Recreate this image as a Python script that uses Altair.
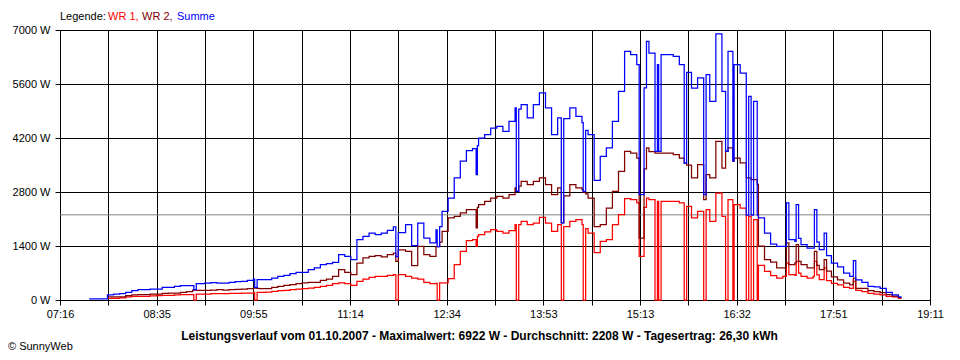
import altair as alt
import pandas as pd

FONT = "Liberation Sans"

# ---------------- data ----------------
times = [
    "07:40", "07:45", "07:50", "07:55", "08:00", "08:05", "08:10", "08:15", "08:20", "08:25",
    "08:30", "08:35", "08:40", "08:45", "08:50", "08:55", "09:00", "09:05", "09:06", "09:08",
    "09:10", "09:15", "09:20", "09:25", "09:30", "09:35", "09:40", "09:45", "09:50", "09:55",
    "09:56", "09:58", "10:00", "10:05", "10:10", "10:15", "10:20", "10:25", "10:30", "10:35",
    "10:40", "10:45", "10:50", "10:55", "11:00", "11:05", "11:10", "11:15", "11:20", "11:25",
    "11:30", "11:35", "11:40", "11:45", "11:50", "11:52", "11:54", "12:00", "12:05", "12:10",
    "12:15", "12:20", "12:25", "12:26", "12:28", "12:30", "12:35", "12:40", "12:45", "12:50",
    "12:55", "12:58", "12:59", "13:00", "13:05", "13:10", "13:15", "13:20", "13:25", "13:30",
    "13:31", "13:33", "13:35", "13:40", "13:45", "13:50", "13:55", "14:00", "14:05", "14:08",
    "14:10", "14:15", "14:20", "14:25", "14:26", "14:28", "14:30", "14:35", "14:40", "14:45",
    "14:50", "14:55", "15:00", "15:05", "15:10", "15:12", "15:16", "15:18", "15:20", "15:25",
    "15:27", "15:28", "15:30", "15:35", "15:40", "15:45", "15:49", "15:51", "15:55", "16:00",
    "16:05", "16:07", "16:10", "16:15", "16:20", "16:23", "16:25", "16:29", "16:30", "16:35",
    "16:40", "16:42", "16:44", "16:46", "16:49", "16:50", "16:55", "17:00", "17:05", "17:10",
    "17:13", "17:15", "17:20", "17:21", "17:23", "17:25", "17:30", "17:35", "17:36", "17:38",
    "17:40", "17:44", "17:46", "17:50", "17:55", "18:00", "18:05", "18:08", "18:10", "18:15",
    "18:20", "18:25", "18:30", "18:35", "18:40", "18:45", "18:47",
]

wr1 = [
    None, None, None, 43, 43, 52, 78, 95, 95, 95,
    104, 112, 121, 121, 130, 138, 138, 138, 0, 155,
    155, 155, 164, 164, 164, 173, 173, 181, 181, 198,
    0, 198, 198, 207, 225, 242, 251, 268, 285, 294,
    311, 328, 354, 380, 423, 441, 423, 380, 484, 544,
    588, 614, 614, 640, 657, 0, 657, 614, 570, 544,
    458, 423, 432, 0, 441, 441, 553, 916, 1262, 1538,
    1564, 1391, 1650, 1694, 1763, 1823, 1780, 1737, 1797, 1953,
    0, 1953, 2040, 1953, 1996, 2143, 1996, 1780, 1953, 0,
    1900, 2040, 2083, 1953, 0, 1850, 1737, 1230, 1521, 1564,
    1953, 2212, 2627, 2601, 2515, 1132, 2400, 2644, 2600, 0,
    2558, 0, 2558, 2558, 2558, 2515, 0, 2428, 2126, 2299,
    0, 2342, 2040, 2774, 2169, 0, 2601, 0, 2472, 2385,
    0, 2169, 0, 2083, 0, 900, 743, 630, 570, 614,
    959, 657, 640, 1002, 700, 614, 570, 614, 1002, 650,
    527, 830, 500, 430, 390, 330, 300, 484, 250, 220,
    170, 150, 130, 95, 80, 45, 30,
]

wr2 = [
    None, None, None, 78, 78, 78, 112, 130, 138, 138,
    155, 155, 173, 181, 181, 198, 216, 259, 259, 250,
    250, 250, 259, 267, 259, 267, 276, 285, 293, 310,
    310, 300, 293, 294, 328, 354, 380, 398, 423, 441,
    458, 458, 510, 544, 614, 786, 717, 657, 959, 1089,
    1132, 1149, 1115, 1175, 1218, 1002, 1300, 1262, 890, 1391,
    1175, 1132, 1383, 1383, 1500, 1780, 2126, 2169, 2256, 2342,
    2342, 1867, 2400, 2472, 2558, 2644, 2688, 2644, 2731, 2904,
    2817, 2950, 3077, 2990, 3077, 3163, 2990, 2731, 2904, 2000,
    2700, 2990, 2904, 2860, 2800, 2750, 2644, 1900, 1953, 2385,
    2817, 3336, 3854, 3811, 3681, 1607, 3400, 3941, 3850, 3811,
    3811, 3811, 3811, 3811, 3768, 3681, 3550, 3500, 3163, 3509,
    2600, 3249, 3163, 4114, 3422, 3854, 3941, 3600, 3681, 3552,
    3163, 3163, 3120, 3120, 3000, 1400, 1046, 980, 830, 830,
    1478, 916, 960, 1435, 1000, 916, 830, 830, 1262, 900,
    786, 1050, 750, 600, 520, 440, 390, 570, 300, 300,
    240, 220, 190, 140, 100, 60, 40,
]

summe = [
    26, 26, 26, 130, 155, 163, 198, 241, 267, 267,
    285, 285, 328, 328, 354, 371, 371, 371, 267, 423,
    423, 440, 449, 440, 440, 458, 475, 484, 510, 544,
    325, 527, 527, 527, 570, 614, 640, 683, 717, 717,
    786, 830, 916, 942, 977, 1175, 1132, 1046, 1564, 1651,
    1737, 1694, 1737, 1806, 1893, 1123, 1750, 1953, 1409, 1996,
    1607, 1478, 1815, 1383, 1900, 2299, 2644, 3163, 3600, 3872,
    3923, 3250, 4000, 4200, 4286, 4459, 4503, 4373, 4632, 4978,
    2817, 4950, 5064, 4719, 5064, 5367, 4978, 4286, 4719, 2000,
    4700, 4978, 4762, 4600, 2817, 4400, 4286, 3100, 3725, 3941,
    4632, 5410, 6447, 6361, 6101, 2731, 5500, 6706, 6400, 3854,
    6101, 3854, 6361, 6361, 6317, 6101, 3550, 5900, 5496, 5756,
    2731, 5842, 5151, 6900, 5410, 3854, 6447, 3600, 6101, 5885,
    2200, 5280, 2200, 5151, 2200, 2126, 1737, 1450, 1391, 1391,
    2515, 1564, 1521, 2472, 1600, 1435, 1348, 1348, 2342, 1500,
    1305, 1737, 1150, 959, 856, 700, 614, 1020, 520, 460,
    354, 340, 300, 200, 130, 78, 52,
]

series_names = ["WR 1", "WR 2", "Summe"]
series_colors = ["#ff0000", "#800000", "#0000ff"]

x_tick_labels = ["07:16", "08:35", "09:55", "11:14", "12:34",
                 "13:53", "15:13", "16:32", "17:51", "19:11"]
y_ticks = [0, 1400, 2800, 4200, 5600, 7000]
average_w = 2208

legend_parts = ["Legende:", "WR 1,", "WR 2,", "Summe"]
legend_colors = ["#000000", "#ff0000", "#800000", "#0000ff"]
title_text = ("Leistungsverlauf vom 01.10.2007 - Maximalwert: 6922 W - "
              "Durchschnitt: 2208 W - Tagesertrag: 26,30 kWh")
copyright_text = "\u00a9 SunnyWeb"

# ---------------- table ----------------
def to_min(s):
    h, m = s.split(":")
    return int(h) * 60 + int(m)

minutes = [to_min(t) for t in times]
rows = []
for name, vals in zip(series_names, [wr1, wr2, summe]):
    for m, v in zip(minutes, vals):
        if v is not None:
            rows.append({"minute": m, "value": v, "series": name})
df = pd.DataFrame(rows)

x0 = to_min(x_tick_labels[0])
x1 = to_min(x_tick_labels[-1])
n_int = 2 * (len(x_tick_labels) - 1)
x_tick_vals = [x0 + k * (x1 - x0) / n_int for k in range(n_int + 1)]
lbl_arr = "[" + ",".join("'%s'" % s for s in x_tick_labels) + "]"
idx = "round((datum.value - %d) * %d / %d)" % (x0, n_int, x1 - x0)
x_label_expr = "%s %% 2 == 0 ? %s[%s / 2] : ''" % (idx, lbl_arr, idx)

x_enc = alt.X("minute:Q",
              scale=alt.Scale(domain=[x0, x1], nice=False, zero=False),
              axis=alt.Axis(values=x_tick_vals, labelExpr=x_label_expr, title=None,
                            grid=True, labelFlush=False, labelOverlap=False,
                            labelPadding=3))
y_enc = alt.Y("value:Q",
              scale=alt.Scale(domain=[0, 7000], nice=False),
              axis=alt.Axis(values=y_ticks, labelExpr="datum.value + ' W'", title=None,
                            grid=True, labelPadding=5, labelFlush=False,
                            labelOverlap=False))

avg_rule = alt.Chart(alt.Data(values=[{}])).mark_rule(
    color="#808080", strokeWidth=1).encode(y=alt.datum(average_w))

lines = []
for name, col in zip(series_names, series_colors):
    lines.append(
        alt.Chart(df).transform_filter(alt.datum.series == name)
        .mark_line(interpolate="step-after", strokeWidth=1.25, color=col)
        .encode(x=x_enc, y=y_enc)
    )


def text_layer(txt, x, y, color="#000000", size=11, weight="normal", align="left"):
    return alt.Chart(alt.Data(values=[{}])).mark_text(
        text=txt, align=align, baseline="alphabetic", fontSize=size,
        fontWeight=weight, font=FONT, color=color
    ).encode(x=alt.value(x), y=alt.value(y))


legend_x = [0, 48, 82, 117]
texts = [text_layer(t, xx, -10, c) for t, xx, c in zip(legend_parts, legend_x, legend_colors)]
texts.append(text_layer(title_text, 419.5, 310, size=12, weight="bold", align="center"))
texts.append(text_layer(copyright_text, -52, 320, size=11))

chart = alt.layer(avg_rule, *lines, *texts).properties(
    width=870, height=270,
    autosize=alt.AutoSizeParams(type="none"),
    padding={"left": 52, "top": 22, "right": 22, "bottom": 52},
    background="white",
).configure_axis(
    domainColor="black", tickColor="black", gridColor="black", gridOpacity=1,
    labelColor="black", labelFont=FONT, labelFontSize=11, tickSize=5,
    domainWidth=1, tickWidth=1, gridWidth=1,
).configure_view(strokeWidth=0)

chart.save("out.html", embed_options={"renderer": "svg", "actions": False})
